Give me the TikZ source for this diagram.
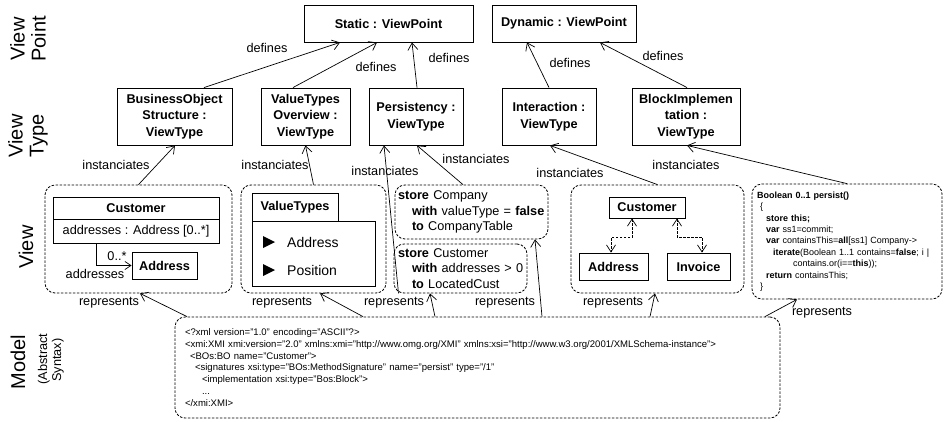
\documentclass[tikz,border=0pt]{standalone}
\usepackage{fontspec}
\setmainfont{Liberation Sans}
\usetikzlibrary{arrows.meta}

\newcommand{\fsz}[2]{\fontsize{#1}{#2}\selectfont}

\tikzset{
  typebox/.style={draw, line width=0.9pt, inner sep=0pt, align=center,
    font=\bfseries\fsz{12.7}{16.5}},
  viewbox/.style={draw, line width=0.8pt, dash pattern=on 2.5pt off 1.5pt,
    rounded corners=10pt, inner sep=0pt},
  rel/.style={line width=0.7pt, -{Straight Barb[length=7pt,width=10pt]}},
  dep/.style={line width=0.7pt, dash pattern=on 2.5pt off 1.5pt,
    {Straight Barb[length=7pt,width=9pt]}-{Straight Barb[length=7pt,width=9pt]}},
  lbl/.style={inner sep=0pt, font=\fsz{12.7}{14}},
  lane/.style={rotate=90, align=center, inner sep=0pt, font=\fsz{20}{21}},
  member/.style={inner sep=0pt, anchor=west, font=\fsz{14}{16}},
}

\begin{document}
\begin{tikzpicture}[x=1pt,y=-1pt]
\useasboundingbox (0,0) rectangle (945,421);

% ---- lane captions ----
\node[lane] (lnVP) at (28,39) {View\\Point};
\node[lane] (lnVT) at (28,136) {View\\Type};
\node[lane] (lnV) at (26,247) {View};
\node[lane, anchor=base] (lnModel) at (25,362) {Model};
\node[lane, anchor=base, font=\fsz{12.7}{14}] (lnAbs) at (47,359) {(Abstract};
\node[lane, anchor=base, font=\fsz{12.7}{14}] (lnSyn) at (61,360) {Syntax)};

% ---- view points ----
\node[typebox, minimum width=169pt, minimum height=37pt] (static) at (388.5,23.5) {Static : ViewPoint};
\node[typebox, minimum width=144pt, minimum height=37pt] (dynamic) at (564,23.5) {Dynamic : ViewPoint};

% ---- view types ----
\node[typebox, minimum width=115pt, minimum height=57pt] (bos) at (174.5,116.5) {BusinessObject\\Structure :\\ViewType};
\node[typebox, minimum width=89pt, minimum height=57pt] (vto) at (305.5,116.5) {ValueTypes\\Overview :\\ViewType};
\node[typebox, minimum width=94pt, minimum height=57pt] (pers) at (416,116.5) {Persistency :\\ViewType};
\node[typebox, minimum width=94pt, minimum height=57pt] (inter) at (549,116.5) {Interaction :\\ViewType};
\node[typebox, minimum width=108pt, minimum height=57pt] (block) at (686,116.5) {BlockImplemen\\tation :\\ViewType};

% ---- views ----
\node[viewbox, minimum width=187pt, minimum height=108pt] (v1) at (138.5,239) {};
\node[viewbox, minimum width=145pt, minimum height=108pt] (v2) at (313.5,239) {};
\node[viewbox, text width=147pt, inner xsep=3pt, minimum height=54pt, align=left,
      font=\fsz{12.7}{15.5}] (v3a) at (471.5,212)
  {\mbox{\textbf{store} Company}\\
   \mbox{\hspace*{14pt}\textbf{with} valueType = \textbf{false}}\\
   \mbox{\hspace*{14pt}\textbf{to} CompanyTable}};
\node[viewbox, text width=125pt, inner xsep=4pt, minimum height=49pt, align=left,
      font=\fsz{12.7}{15.5}] (v3b) at (460.5,268.5)
  {\mbox{\textbf{store} Customer}\\
   \mbox{\hspace*{14pt}\textbf{with} addresses > 0}\\
   \mbox{\hspace*{14pt}\textbf{to} LocatedCust}};
\node[viewbox, minimum width=173pt, minimum height=108pt] (v4) at (657.5,239) {};
\node[viewbox, text width=180pt, inner xsep=5pt, minimum height=115pt, align=left,
      font=\fsz{9}{11.4}] (v5) at (847,241.5)
  {\textbf{Boolean 0..1 persist()}\\
   \hspace*{3pt}\{\\
   \hspace*{9pt}\textbf{store this;}\\
   \hspace*{9pt}\textbf{var} ss1=commit;\\
   \mbox{\hspace*{9pt}\textbf{var} containsThis=\textbf{all}[ss1] Company->}\\
   \mbox{\hspace*{16pt}\textbf{iterate}(Boolean 1..1 contains=\textbf{false}; i |}\\
   \hspace*{36pt}contains.or(i==\textbf{this}));\\
   \hspace*{9pt}\textbf{return} containsThis;\\
   \hspace*{3pt}\}};

% ---- model ----
\node[viewbox, text width=585pt, inner xsep=10pt, minimum height=101pt, align=left,
      font=\fsz{9.55}{11.7}] (model) at (477.5,367.5)
  {<?xml version="1.0" encoding="ASCII"?>\\
   \mbox{<xmi:XMI xmi:version="2.0" xmlns:xmi="http://www.omg.org/XMI" xmlns:xsi="http://www.w3.org/2001/XMLSchema-instance">}\\
   \hspace*{5pt}<BOs:BO name="Customer">\\
   \hspace*{10pt}<signatures xsi:type="BOs:MethodSignature" name="persist" type="/1"\\
   \hspace*{17pt}<implementation xsi:type="Bos:Block">\\
   \hspace*{17pt}...\\
   </xmi:XMI>};

% ---- class diagram inside the first view ----
\node[typebox, minimum width=166pt, minimum height=22pt] (custT) at (136,208) {Customer};
\node[draw, line width=0.9pt, inner sep=0pt, minimum width=166pt, minimum height=24pt,
      font=\fsz{12.7}{14}] (custA) at (136,231) {addresses : Address [0..*]};
\node[typebox, minimum width=65pt, minimum height=27pt] (addr1) at (164.5,265.5) {Address};
\draw[line width=0.7pt, -{Straight Barb[length=6pt,width=8pt]}]
  ([xshift=-40pt]custA.south) |- (addr1.west);
\node[lbl] (mult) at (117,256) {0..*};
\node[lbl] (role) at (95,274) {addresses};

% ---- package inside the second view ----
\node[typebox, minimum width=86pt, minimum height=28pt] (vtTab) at (295,207) {ValueTypes};
\node[draw, line width=0.9pt, inner sep=0pt, minimum width=123pt, minimum height=65pt] (vtBody) at (313.5,253.5) {};
\fill (263,236) -- (275,242) -- (263,248) -- cycle;
\fill (263,264) -- (275,270) -- (263,276) -- cycle;
\node[member] (mAddr) at (287,242) {Address};
\node[member] (mPos) at (287,270) {Position};

% ---- classes inside the interaction view ----
\node[typebox, minimum width=76pt, minimum height=21pt] (cust4) at (647,207.5) {Customer};
\node[typebox, minimum width=69pt, minimum height=27pt] (addr4) at (613.5,266.5) {Address};
\node[typebox, minimum width=63pt, minimum height=27pt] (inv4) at (698.5,266.5) {Invoice};
\draw[dep] ([xshift=-15pt]cust4.south) -- ++(0,19) -| ([xshift=-2.5pt]addr4.north);
\draw[dep] ([xshift=30pt]cust4.south) -- ++(0,19) -| ([xshift=3.5pt]inv4.north);

% ---- defines ----
\draw[rel] ([xshift=29.5pt]bos.north) -- ([xshift=-48.5pt]static.south);
\draw[rel] ([xshift=-12.5pt]vto.north) -- ([xshift=-11.5pt]static.south);
\draw[rel] ([xshift=1pt]pers.north) -- ([xshift=23.5pt]static.south);
\draw[rel] (inter.north) -- ([xshift=-37pt]dynamic.south);
\draw[rel] ([xshift=1pt]block.north) -- ([xshift=36pt]dynamic.south);
\node[lbl] (d1) at (267,48) {defines};
\node[lbl] (d2) at (376,67) {defines};
\node[lbl] (d3) at (449,58) {defines};
\node[lbl] (d4) at (570,63) {defines};
\node[lbl] (d5) at (663,56) {defines};

% ---- instanciates ----
\draw[rel] (v1.north) -- ([xshift=0.5pt]bos.south);
\draw[rel] (v2.north) -- (vto.south);
\draw[rel] ([xshift=-8.5pt]v3a.north) -- ([xshift=1pt]pers.south);
\draw[rel] ([xshift=-62pt]v3b.south) -- ([xshift=-32pt]pers.south);
\draw[rel] (v4.north) -- ([xshift=1pt]inter.south);
\draw[rel] (v5.north) -- ([xshift=1pt]block.south);
\node[lbl] (i1) at (116,165) {instanciates};
\node[lbl] (i2) at (275,165) {instanciates};
\node[lbl] (i3) at (476,159) {instanciates};
\node[lbl] (i4) at (385,171) {instanciates};
\node[lbl] (i5) at (570,173) {instanciates};
\node[lbl] (i6) at (686,165) {instanciates};

% ---- represents ----
\draw[rel] ([xshift=-290.5pt]model.north) -- ([xshift=1.5pt]v1.south);
\draw[rel] ([xshift=-114.5pt]model.north) -- ([xshift=6.5pt]v2.south);
\draw[rel] ([xshift=-42.5pt]model.north) -- ([xshift=-30.5pt]v3b.south);
\draw[rel] ([xshift=64.5pt]model.north) -- ([xshift=63.5pt]v3a.south);
\draw[rel] ([xshift=172.5pt]model.north) -- ([xshift=-2.5pt]v4.south);
\draw[rel] ([xshift=287.5pt]model.north) -- ([xshift=-50pt]v5.south);
\node[lbl] (r1) at (109,303) {represents};
\node[lbl] (r2) at (282,303) {represents};
\node[lbl] (r3) at (394,303) {represents};
\node[lbl] (r4) at (505,303) {represents};
\node[lbl] (r5) at (613,303) {represents};
\node[lbl] (r6) at (822,313) {represents};
\end{tikzpicture}
\end{document}
